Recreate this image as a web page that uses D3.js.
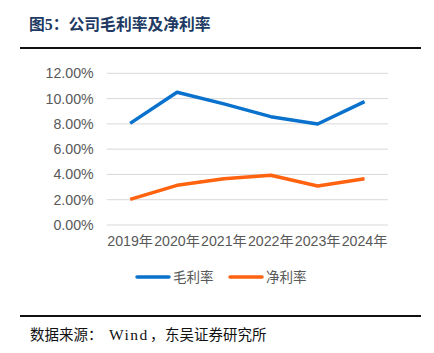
<!DOCTYPE html>
<html>
<head>
<meta charset="utf-8">
<script src="https://cdn.jsdelivr.net/npm/d3@7/dist/d3.min.js"></script>
<style>
  html, body { margin: 0; padding: 0; background: #fff; }
  svg { display: block; }
</style>
</head>
<body>
<svg id="chart" width="434" height="353"></svg>
<script>
// 数据
const years = ["2019年", "2020年", "2021年", "2022年", "2023年", "2024年"];
const grossMargin = [8.04, 10.5, 9.58, 8.57, 7.99, 9.76];
const netMargin = [2.03, 3.14, 3.65, 3.93, 3.09, 3.66];
const yTicks = [0, 2, 4, 6, 8, 10, 12];
const seriesNames = ["毛利率", "净利率"];
const seriesColors = ["#0a72cc", "#ff6310"];

const svg = d3.select("#chart");
const cjk = "'Noto Sans CJK SC', sans-serif";
const serif = "'Liberation Serif', 'Noto Sans CJK SC', serif";

// 标题和上下分隔线
svg.append("text")
  .attr("x", 29).attr("y", 30)
  .attr("font-family", serif)
  .attr("font-size", 15.8)
  .attr("font-weight", "bold")
  .attr("fill", "#213a63")
  .text("图5：公司毛利率及净利率");

svg.append("line")
  .attr("x1", 20).attr("x2", 421).attr("y1", 48).attr("y2", 48)
  .attr("stroke", "#111").attr("stroke-width", 2);

svg.append("line")
  .attr("x1", 20).attr("x2", 421).attr("y1", 316).attr("y2", 316)
  .attr("stroke", "#111").attr("stroke-width", 2);

// 数据来源（分段放置，保留原图的间距）
const src = svg.append("text")
  .attr("y", 340)
  .attr("font-family", serif)
  .attr("font-size", 14.5)
  .attr("fill", "#111");
src.append("tspan").attr("x", 30).text("数据来源：");
src.append("tspan").attr("x", 109).attr("font-size", 15.5)
  .attr("letter-spacing", 1.5).text("Wind");
src.append("tspan").attr("x", 150).text("，");
src.append("tspan").attr("x", 165).text("东吴证券研究所");

// 比例尺
const x = d3.scaleBand().domain(years).range([106.7, 388]);
const y = d3.scaleLinear().domain([0, 12]).range([225, 73.3]);

// 网格线
svg.append("g")
  .selectAll("line")
  .data(yTicks)
  .join("line")
  .attr("x1", 106.7).attr("x2", 388)
  .attr("y1", d => y(d)).attr("y2", d => y(d))
  .attr("stroke", "#d9d9d9").attr("stroke-width", 1);

// Y轴
const yAxis = svg.append("g")
  .attr("transform", "translate(106.7,0)")
  .call(d3.axisLeft(y).tickValues(yTicks).tickSize(0).tickPadding(13)
    .tickFormat(d => d.toFixed(2) + "%"));
yAxis.select(".domain").remove();
yAxis.selectAll("text")
  .attr("font-family", "'Liberation Sans', Arial, sans-serif")
  .attr("font-size", 14.2)
  .attr("fill", "#595959");

// X轴
const xAxis = svg.append("g")
  .attr("transform", "translate(0,225)")
  .call(d3.axisBottom(x).tickSize(0).tickPadding(11));
xAxis.select(".domain").remove();
xAxis.selectAll("text")
  .attr("font-family", "'Liberation Sans', 'Noto Sans CJK SC', sans-serif")
  .attr("font-size", 14.2)
  .attr("fill", "#595959");

// 折线
const line = d3.line()
  .x((d, i) => x(years[i]) + x.bandwidth() / 2)
  .y(d => y(d));

[grossMargin, netMargin].forEach((s, k) => {
  svg.append("path")
    .datum(s)
    .attr("d", line)
    .attr("fill", "none")
    .attr("stroke", seriesColors[k])
    .attr("stroke-width", 3.5)
    .attr("stroke-linejoin", "round");
});

// 图例
const legendX = [137, 230];
seriesNames.forEach((name, k) => {
  const g = svg.append("g").attr("transform", `translate(${legendX[k]},277)`);
  g.append("line")
    .attr("x1", 0).attr("x2", 32).attr("y1", 0).attr("y2", 0)
    .attr("stroke", seriesColors[k]).attr("stroke-width", 3.5)
    .attr("stroke-linecap", "round");
  g.append("text")
    .attr("x", 36).attr("y", 5)
    .attr("font-family", cjk)
    .attr("font-size", 13.5)
    .attr("fill", "#595959")
    .text(name);
});
</script>
</body>
</html>
